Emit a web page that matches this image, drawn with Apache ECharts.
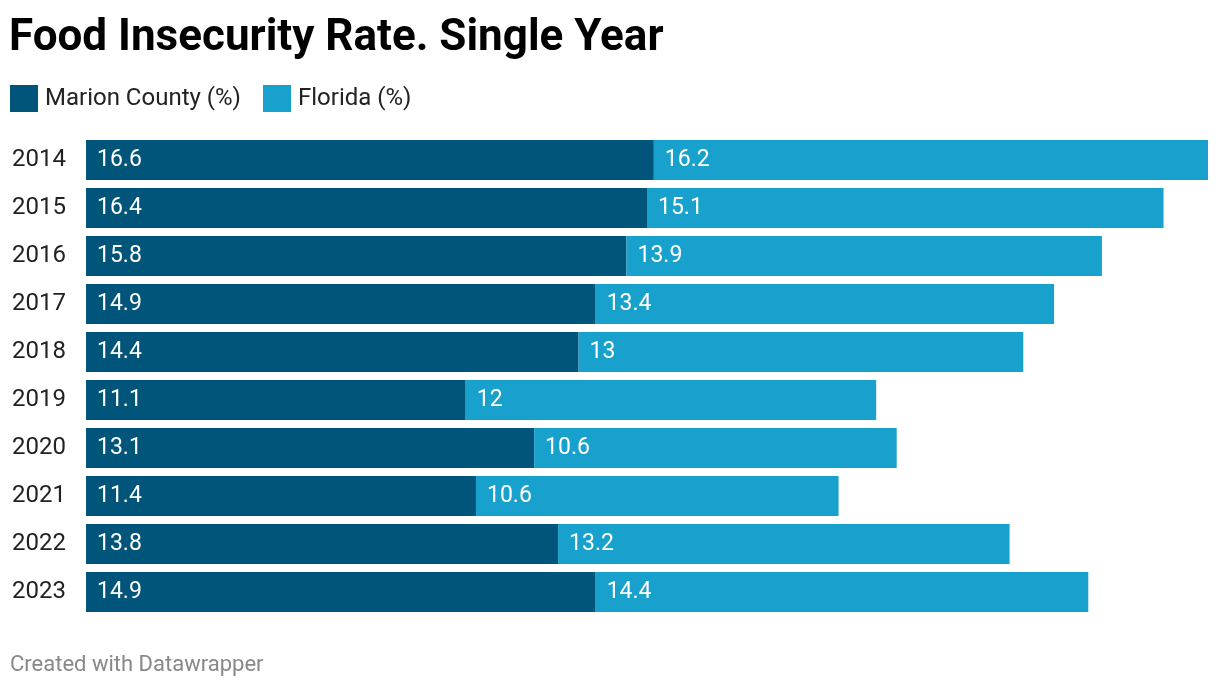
<!DOCTYPE html>
<html><head><meta charset="utf-8">
<script src="https://cdn.jsdelivr.net/npm/echarts@6/dist/echarts.min.js"></script>
<style>html,body{margin:0;padding:0;background:#fff}#c{width:1220px;height:688px}</style>
</head><body><div id="c"></div>
<script>
const years = ['2014','2015','2016','2017','2018','2019','2020','2021','2022','2023'];
const marion = [16.6,16.4,15.8,14.9,14.4,11.1,13.1,11.4,13.8,14.9];
const florida = [16.2,15.1,13.9,13.4,13,12,10.6,10.6,13.2,14.4];
const seriesNames = ['Marion County (%)','Florida (%)'];
const totalMax = Math.max(...marion.map((v,i)=>v+florida[i]));
const F = 'Roboto, sans-serif';
const chart = echarts.init(document.getElementById('c'), null, {renderer:'canvas'});
const lbl = {show:true, position:'insideLeft', distance:11, color:'#fff', fontSize:23, fontFamily:F};
chart.setOption({
  animation:false,
  textStyle:{fontFamily:F},
  title:{text:'Food Insecurity Rate. Single Year', left:4, top:12,
    textStyle:{fontSize:44, fontWeight:'bold', color:'#000', fontFamily:F}},
  legend:{left:5, top:80, itemWidth:28, itemHeight:27, itemGap:22, icon:'rect',
    textStyle:{fontSize:24, color:'#222', fontFamily:F, padding:[0,0,0,2]},
    data:seriesNames},
  grid:{left:86, right:12, top:136, bottom:72, containLabel:false},
  xAxis:{type:'value', min:0, max:totalMax, show:false},
  yAxis:{type:'category', data:years, inverse:true,
    axisLine:{show:false}, axisTick:{show:false},
    axisLabel:{align:'left', margin:74, fontSize:24, color:'#222', fontFamily:F}},
  series:[
    {name:seriesNames[0], type:'bar', stack:'a', data:marion, barCategoryGap:'16.7%',
      itemStyle:{color:'#01547a'}, label:lbl},
    {name:seriesNames[1], type:'bar', stack:'a', data:florida, barCategoryGap:'16.7%',
      itemStyle:{color:'#19a1cd'}, label:lbl}
  ],
  graphic:[{type:'text', left:10, top:654, style:{text:'Created with Datawrapper', fontSize:22, fill:'#888', fontFamily:F}}]
});
</script></body></html>
